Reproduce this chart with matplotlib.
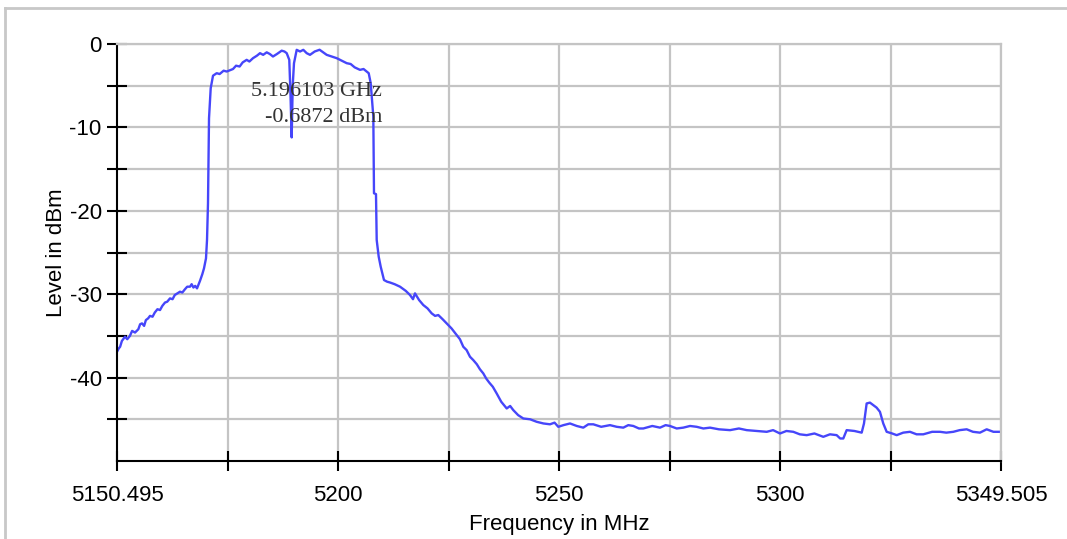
# spectrum trace with marker readout
import numpy as np
import matplotlib.pyplot as plt
from matplotlib.lines import Line2D

F_START = 5150.495
F_STOP = 5349.505

# trace (MHz, dBm)
freq = [5150.50, 5150.90, 5151.20, 5151.60, 5152.30, 5152.80, 5153.40, 5153.90, 5154.55,
        5155.30, 5155.70, 5156.12, 5156.60, 5157.00, 5157.50, 5157.92, 5158.50, 5159.00,
        5159.60, 5160.18, 5160.70, 5161.30, 5161.80, 5162.43, 5163.00, 5163.50, 5164.10,
        5164.68, 5165.20, 5165.80, 5166.30, 5166.93, 5167.30, 5167.70, 5168.10, 5168.51,
        5169.18, 5169.70, 5170.08, 5170.53, 5170.76, 5170.98, 5171.21, 5171.59,
        5172.11, 5172.94, 5173.60, 5174.50, 5175.20, 5176.61, 5177.30, 5178.10, 5178.80,
        5179.69, 5180.30, 5181.11, 5182.00, 5182.69, 5183.40, 5184.20, 5184.90, 5185.61,
        5186.50, 5187.57, 5188.20, 5188.70, 5189.28, 5189.55, 5189.82, 5190.05,
        5190.34, 5190.95, 5191.70, 5192.44, 5193.20, 5193.94, 5195.00, 5196.10, 5196.90,
        5197.70, 5198.80, 5199.96, 5201.10, 5202.21, 5203.10, 5204.00, 5205.20, 5206.00,
        5206.71, 5207.16, 5207.61, 5208.20, 5208.35, 5208.80, 5208.96, 5209.41, 5209.86,
        5210.60, 5211.30, 5211.96, 5213.00, 5214.21, 5215.50, 5216.46, 5217.13, 5217.58,
        5218.50, 5219.45, 5220.40, 5221.34, 5222.10, 5222.83, 5223.80, 5224.72, 5225.80,
        5226.97, 5227.70, 5228.45, 5229.20, 5229.96, 5230.70, 5231.50, 5232.20, 5232.96,
        5233.60, 5234.30, 5235.10, 5235.97, 5237.00, 5238.23, 5239.00, 5239.71, 5240.80,
        5241.96, 5243.50, 5244.98, 5246.50, 5247.97, 5249.00, 5249.84, 5251.00, 5252.48,
        5254.00, 5255.47, 5256.60, 5257.72, 5259.50, 5261.48, 5263.00, 5264.48, 5265.60,
        5266.73, 5268.00, 5268.98, 5271.00, 5272.74, 5274.00, 5274.99, 5276.50, 5277.98,
        5279.50, 5281.00, 5282.50, 5284.00, 5286.00, 5288.50, 5290.50, 5292.26, 5294.50,
        5296.76, 5298.20, 5299.75, 5301.20, 5302.75, 5304.20, 5305.76, 5307.50, 5309.50,
        5311.00, 5312.51, 5313.30, 5314.00, 5314.76, 5316.50, 5318.14, 5318.66, 5319.26,
        5320.00, 5320.75, 5321.50, 5322.25, 5323.00, 5323.77, 5325.00, 5326.02, 5327.50,
        5329.02, 5330.50, 5332.01, 5334.00, 5335.77, 5337.20, 5338.77, 5340.20, 5341.78,
        5343.20, 5344.77, 5346.28, 5347.80, 5349.28, 5349.505]
level = [-36.9, -36.5, -36.3, -35.6, -35.1, -35.4, -35.0, -34.4, -34.6,
         -34.2, -33.6, -33.5, -33.8, -33.1, -32.9, -32.6, -32.7, -32.2,
         -31.8, -31.9, -31.4, -31.0, -30.9, -30.5, -30.6, -30.1, -29.9,
         -29.7, -29.8, -29.4, -29.1, -29.1, -28.8, -29.2, -29.0, -29.3,
         -28.4, -27.6, -26.9, -25.7, -23.5, -19.1, -8.9, -5.3,
         -3.8, -3.5, -3.6, -3.2, -3.3, -3.0, -2.6, -2.7, -2.2,
         -1.9, -2.1, -1.7, -1.4, -1.1, -1.3, -1.0, -1.2, -1.5,
         -1.2, -0.8, -0.9, -1.1, -1.9, -6.0, -11.2, -5.0,
         -2.3, -0.7, -0.9, -0.7, -1.1, -1.3, -0.9, -0.69, -1.0,
         -1.3, -1.5, -1.7, -2.0, -2.3, -2.4, -2.8, -3.1, -3.0,
         -3.3, -3.5, -4.7, -8.7, -17.9, -18.0, -23.5, -25.5, -26.7,
         -28.3, -28.5, -28.6, -28.8, -29.1, -29.6, -30.1, -30.6, -29.9,
         -30.7, -31.3, -31.7, -32.3, -32.6, -32.5, -33.0, -33.5, -34.1,
         -34.9, -35.4, -36.3, -36.7, -37.5, -37.9, -38.4, -39.0, -39.5,
         -40.1, -40.6, -41.1, -41.9, -42.9, -43.7, -43.4, -43.9, -44.5,
         -44.9, -45.0, -45.3, -45.5, -45.6, -45.4, -45.9, -45.7, -45.5,
         -45.8, -46.0, -45.6, -45.6, -45.9, -45.7, -45.9, -46.0, -45.7,
         -45.8, -46.1, -46.1, -45.8, -46.0, -45.7, -45.8, -46.1, -46.0,
         -45.8, -45.9, -46.1, -46.0, -46.2, -46.3, -46.1, -46.3, -46.4,
         -46.5, -46.3, -46.7, -46.4, -46.5, -46.8, -46.9, -46.7, -47.1,
         -46.8, -46.9, -47.3, -47.3, -46.3, -46.4, -46.6, -45.5, -43.1,
         -43.0, -43.3, -43.6, -44.1, -45.5, -46.5, -46.7, -46.9, -46.6,
         -46.5, -46.8, -46.8, -46.5, -46.5, -46.6, -46.5, -46.3, -46.2,
         -46.5, -46.6, -46.2, -46.5, -46.5, -46.5]

marker_freq = 5196.103
marker_level = -0.6872

xtick_labels = ['5150.495', '', '5200', '', '5250', '', '5300', '', '5349.505']
ytick_major = [0, -10, -20, -30, -40]

plt.rcParams['font.family'] = ['Liberation Sans', 'DejaVu Sans']
plt.rcParams['axes.unicode_minus'] = False

fig = plt.figure(figsize=(10.67, 5.39), dpi=100)
ax = fig.add_axes([117/1067, 1-461/539, 884/1067, 417/539])

ax.plot(freq, level, color='#4646fa', lw=1.7)

ax.set_xlim(F_START, F_STOP)
ax.set_ylim(-50, 0)

# 8 divisions across the span
xt = np.linspace(F_START, F_STOP, 9)
ax.set_xticks(xt)
ax.set_xticklabels(xtick_labels)
ax.set_yticks(ytick_major)
ax.set_yticks(np.arange(-45, 0, 10), minor=True)
ax.tick_params(axis='x', direction='inout', length=15, width=1.5, pad=10, labelsize=16)
ax.tick_params(axis='y', which='both', direction='inout', length=14, width=1.5, pad=4, labelsize=16)

# horizontal grid every 5 dB
for yv in np.arange(-45, 1, 5):
    ax.axhline(yv, color='#c4c4c4', lw=1.6, zorder=0)
for xv in xt[1:]:
    ax.axvline(xv, color='#c4c4c4', lw=1.6, zorder=0)

for s in ['top', 'right']:
    ax.spines[s].set_color('#c4c4c4')
    ax.spines[s].set_linewidth(1.6)
for s in ['left', 'bottom']:
    ax.spines[s].set_color('black')
    ax.spines[s].set_linewidth(1.5)

ax.set_xlabel('Frequency in MHz', fontsize=16)
ax.set_ylabel('Level in dBm', fontsize=16)
ax.xaxis.set_label_coords(0.5, -0.128)
ax.yaxis.set_label_coords(-0.057, 0.5)

ax.text(5210.2, -4.6, '%.6f GHz\n%.4f dBm' % (marker_freq / 1000, marker_level),
        ha='right', va='top', multialignment='right', fontsize=16,
        family=['Liberation Serif', 'DejaVu Serif'], color='#333333', linespacing=1.45)

# frame of the screenshot
fig.add_artist(Line2D([5/1067, 1], [1-8/539, 1-8/539], color='#c8c8c8', lw=2))
fig.add_artist(Line2D([5/1067, 5/1067], [0, 1-8/539], color='#c8c8c8', lw=2))

fig.savefig('out.png', dpi=100)
